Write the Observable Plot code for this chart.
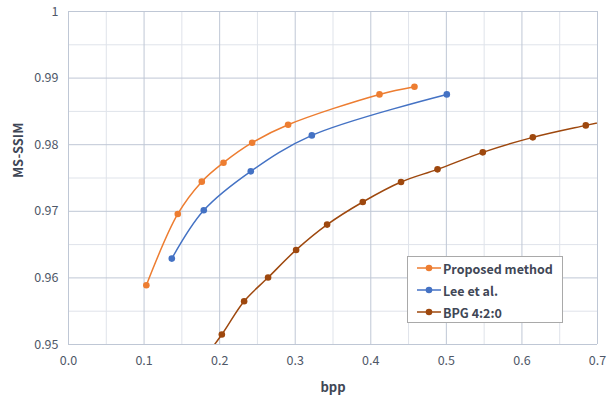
<!DOCTYPE html>
<html><head><meta charset="utf-8">
<script src="https://cdn.jsdelivr.net/npm/d3@7"></script>
<script src="https://cdn.jsdelivr.net/npm/@observablehq/plot@0.6"></script>
<style>
body{margin:0;background:#fff;font-family:"Noto Sans CJK KR","Noto Sans",sans-serif;}
#wrap{position:relative;width:608px;height:398px;}
#legend{position:absolute;left:407px;top:256px;width:156px;height:67px;border:1px solid #a9a9a9;background:#fff;box-sizing:border-box;}
.item{position:absolute;left:8px;height:20px;display:flex;align-items:center;font-weight:bold;font-size:12.5px;color:#3f4756;}
.item svg{margin-right:1px;}
</style></head>
<body><div id="wrap"><div id="chart"></div><div id="legend"></div></div>
<script>
const seriesNames = ["Proposed method", "Lee et al.", "BPG 4:2:0"];
const seriesColors = ["#ED7D31", "#4472C4", "#9E480E"];
const proposedX = [0.103, 0.1446, 0.1764, 0.2051, 0.243, 0.2906, 0.4115, 0.4578];
const proposedY = [0.9589, 0.9696, 0.97445, 0.9773, 0.9803, 0.983, 0.98755, 0.9887];
const leeX = [0.1367, 0.179, 0.2412, 0.322, 0.5006];
const leeY = [0.9629, 0.97015, 0.976, 0.9814, 0.98755];
const bpgX = [0.17, 0.2029, 0.2324, 0.2641, 0.3012, 0.3422, 0.3894, 0.440, 0.4883, 0.5482, 0.6144, 0.6845, 0.77];
const bpgY = [0.9465, 0.9515, 0.9565, 0.96005, 0.9642, 0.968, 0.9714, 0.9744, 0.9763, 0.97885, 0.9811, 0.9829, 0.9849];
const xTicks = [0, 0.1, 0.2, 0.3, 0.4, 0.5, 0.6, 0.7];
const xTickLabels = ["0.0", "0.1", "0.2", "0.3", "0.4", "0.5", "0.6", "0.7"];
const xMinor = [0.05, 0.15, 0.25, 0.35, 0.45, 0.55, 0.65];
const yTicks = [0.95, 0.96, 0.97, 0.98, 0.99, 1];
const yTickLabels = ["0.95", "0.96", "0.97", "0.98", "0.99", "1"];
const yMinor = [0.955, 0.965, 0.975, 0.985, 0.995];

const mk = (xs, ys, s) => xs.map((x, i) => ({x, y: ys[i], s}));
const data = [
  ...mk(proposedX, proposedY, seriesNames[0]),
  ...mk(leeX, leeY, seriesNames[1]),
  ...mk(bpgX, bpgY, seriesNames[2])
];
const colorScale = {domain: seriesNames, range: seriesColors};

const chart = Plot.plot({
  width: 608, height: 398,
  marginLeft: 68, marginTop: 11, marginRight: 11, marginBottom: 54,
  style: {fontFamily: '"Noto Sans CJK KR","Noto Sans",sans-serif', fontSize: "12.5px", color: "#4f5868", background: "#fff"},
  x: {domain: [0, 0.7], ticks: xTicks, tickFormat: (d, i) => xTickLabels[i], tickSize: 0, tickPadding: 12, label: null},
  y: {domain: [0.95, 1], ticks: yTicks, tickFormat: (d, i) => yTickLabels[i], tickSize: 0, tickPadding: 10, label: null},
  color: colorScale,
  marks: [
    Plot.ruleX(xMinor, {stroke: "#dfe3ea", strokeWidth: 1}),
    Plot.ruleY(yMinor, {stroke: "#dfe3ea", strokeWidth: 1}),
    Plot.ruleX(xTicks, {stroke: "#bfc7d5", strokeWidth: 1}),
    Plot.ruleY(yTicks, {stroke: "#bfc7d5", strokeWidth: 1}),
    Plot.line(data, {x: "x", y: "y", z: "s", stroke: "s", strokeWidth: 1.5, curve: "catmull-rom", clip: true}),
    Plot.dot(data, {x: "x", y: "y", fill: "s", r: 3.3, clip: true}),
    Plot.text(["bpp"], {frameAnchor: "bottom", dy: 47, fontWeight: "bold", fontSize: 13, fill: "#3f4756"}),
    Plot.text(["MS-SSIM"], {frameAnchor: "left", dx: -50, rotate: -90, fontWeight: "bold", fontSize: 13, fill: "#3f4756"})
  ]
});
document.getElementById("chart").appendChild(chart);

const legend = document.getElementById("legend");
seriesNames.forEach((n, i) => {
  const d = document.createElement("div");
  d.className = "item";
  d.style.top = (1 + i * 22) + "px";
  d.innerHTML = `<svg width="26" height="10"><line x1="1" x2="25" y1="5" y2="5" stroke="${seriesColors[i]}" stroke-width="1.5"/><circle cx="13" cy="5" r="3.3" fill="${seriesColors[i]}"/></svg>`;
  const t = document.createElement("span");
  t.textContent = n;
  d.appendChild(t);
  legend.appendChild(d);
});
</script></body></html>
